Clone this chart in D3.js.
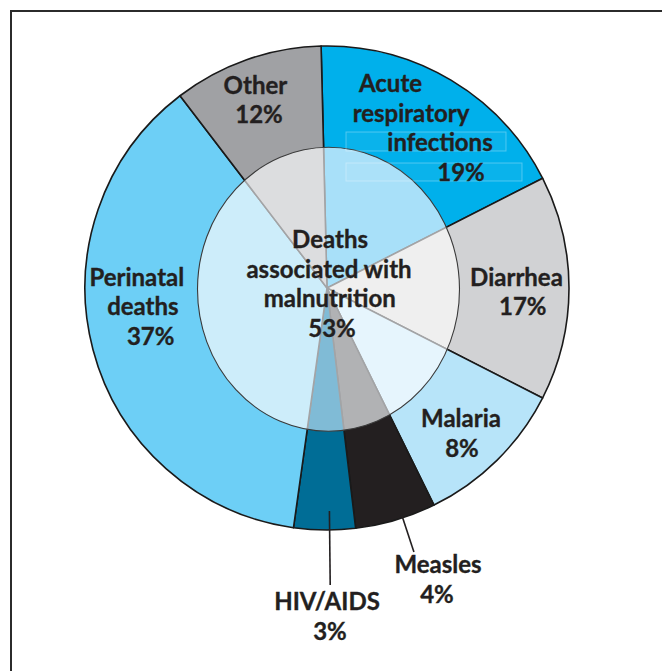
<!DOCTYPE html>
<html>
<head>
<meta charset="utf-8">
<script src="https://cdn.jsdelivr.net/npm/d3@7/dist/d3.min.js"></script>
<style>
  html, body { margin: 0; padding: 0; background: #fff; }
  svg { display: block; }
  text { font-family: Lato, "Open Sans", sans-serif; font-weight: 700; fill: #231f20; stroke: #231f20; stroke-width: 0.35px; }
</style>
</head>
<body>
<svg id="chart" width="662" height="671"></svg>
<script>
// Causes of child deaths, clockwise from 12 o'clock
const causes = ['Acute respiratory infections', 'Diarrhea', 'Malaria', 'Measles', 'HIV/AIDS', 'Perinatal deaths', 'Other'];
// percentages printed on the chart
const printedPct = [19, 17, 8, 4, 3, 37, 12];
// share of the circle each slice actually takes in the picture (%)
const drawnShare = [17.9, 15.0, 10.2, 5.4, 4.1, 37.4, 10.0];
// inner disc: share associated with malnutrition
const malnutritionPct = 53;

const outerColors = ['#00b0eb', '#d1d2d4', '#b7e4f9', '#231f20', '#006d96', '#6dcff6', '#a0a1a4'];
const innerColors = ['#a8e0f9', '#efefef', '#e6f5fd', '#b1b2b4', '#80bbd6', '#cdedfa', '#dcdddf'];

const width = 662, height = 671;
const cx = 327, cy = 288;
const outerR = 242;
const innerRx = 131, innerRy = 142;

const svg = d3.select('#chart');

// frame (runs off the right and bottom edges)
svg.append('rect')
    .attr('x', 11).attr('y', 11)
    .attr('width', width + 20).attr('height', height + 20)
    .attr('fill', 'none')
    .attr('stroke', '#2b2b2b')
    .attr('stroke-width', 2);

const data = causes.map((c, i) => ({ cause: c, share: drawnShare[i], pct: printedPct[i], i }));

const start = -1.4 * Math.PI / 180;
const pie = d3.pie()
    .sort(null)
    .value(d => d.share)
    .startAngle(start)
    .endAngle(2 * Math.PI + start);

const arcs = pie(data);

const g = svg.append('g').attr('transform', `translate(${cx},${cy})`);

const outerArc = d3.arc().innerRadius(0).outerRadius(outerR);
const innerArc = d3.arc().innerRadius(0).outerRadius(outerR + 10);

// outer ring slices
g.append('g').attr('class', 'outer')
    .selectAll('path')
    .data(arcs)
    .join('path')
    .attr('d', outerArc)
    .attr('fill', d => outerColors[d.data.i])
    .attr('stroke', '#1a1a1a')
    .attr('stroke-width', 1.6)
    .attr('stroke-linejoin', 'round');

// inner disc (malnutrition part), clipped to an ellipse
const defs = svg.append('defs');
defs.append('clipPath').attr('id', 'innerClip')
    .append('ellipse')
    .attr('cx', 1.5).attr('cy', 1.3)
    .attr('rx', innerRx).attr('ry', innerRy);

g.append('g').attr('class', 'inner')
    .attr('clip-path', 'url(#innerClip)')
    .selectAll('path')
    .data(arcs)
    .join('path')
    .attr('d', innerArc)
    .attr('fill', d => innerColors[d.data.i])
    .attr('stroke', '#a3a4a6')
    .attr('stroke-width', 1.6);

g.append('ellipse')
    .attr('cx', 1.5).attr('cy', 1.3)
    .attr('rx', innerRx).attr('ry', innerRy)
    .attr('fill', 'none')
    .attr('stroke', '#3a3a3a')
    .attr('stroke-width', 1.1);

// leader lines for the two thin slices
const leaders = [
    { cause: 'Measles', r0: 238, r1: 278, da: -1.7 },
    { cause: 'HIV/AIDS', r0: 223, r1: 297, da: -1.2 }
];
g.append('g').attr('class', 'leaders')
    .selectAll('line')
    .data(leaders)
    .join('line')
    .each(function (l) {
        const a = arcs.find(d => d.data.cause === l.cause);
        const mid = (a.startAngle + a.endAngle) / 2 + l.da * Math.PI / 180;
        const p0 = d3.pointRadial(mid, l.r0);
        const p1 = d3.pointRadial(mid, l.r1);
        d3.select(this)
            .attr('x1', p0[0]).attr('y1', p0[1])
            .attr('x2', p1[0]).attr('y2', p1[1]);
    })
    .attr('stroke', '#231f20')
    .attr('stroke-width', 1.6);

// faint leftover text frames seen on the blue slice
const ghostBoxes = [
    { x: 19, y: -156, w: 160, h: 19 },
    { x: 19, y: -125, w: 176, h: 18 }
];
g.append('g').attr('class', 'ghosts')
    .selectAll('rect')
    .data(ghostBoxes)
    .join('rect')
    .attr('x', d => d.x).attr('y', d => d.y)
    .attr('width', d => d.w).attr('height', d => d.h)
    .attr('fill', 'rgba(255,255,255,0.04)')
    .attr('stroke', 'rgba(255,255,255,0.3)')
    .attr('stroke-width', 1);

// label layout: x of each line (relative to centre) and first baseline
const lineH = 29.6;
const labelLayout = [
    { lines: ['Acute', 'respiratory', 'infections', `${printedPct[0]}%`], xs: [63.5, 84, 113, 134], y: -196 },
    { lines: ['Diarrhea', `${printedPct[1]}%`], xs: [189.5, 195.8], y: -2.2 },
    { lines: ['Malaria', `${printedPct[2]}%`], xs: [134, 135], y: 139 },
    { lines: ['Measles', `${printedPct[3]}%`], xs: [111, 110], y: 285 },
    { lines: ['HIV/AIDS', `${printedPct[4]}%`], xs: [0, 3], y: 322 },
    { lines: ['Perinatal', 'deaths', `${printedPct[5]}%`], xs: [-190.2, -184.1, -176.3], y: -2.2 },
    { lines: ['Other', `${printedPct[6]}%`], xs: [-71.6, -68], y: -194.5 },
    { lines: ['Deaths', 'associated with', 'malnutrition', `${malnutritionPct}%`], xs: [3, 2, 2.7, 5], y: -40 }
];

const labels = g.append('g').attr('class', 'labels');
labelLayout.forEach(L => {
    const t = labels.append('text')
        .attr('text-anchor', 'middle')
        .attr('font-size', 24);
    L.lines.forEach((s, k) => {
        t.append('tspan')
            .attr('x', L.xs[k])
            .attr('y', L.y + k * lineH)
            .text(s);
    });
});
</script>
</body>
</html>
